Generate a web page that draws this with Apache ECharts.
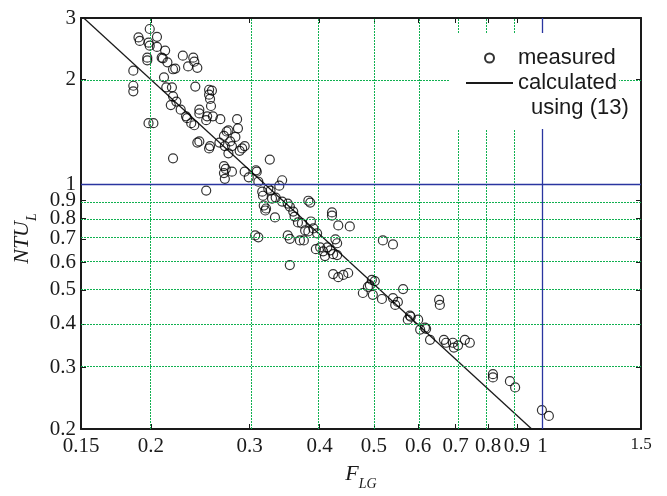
<!DOCTYPE html>
<html>
<head>
<meta charset="utf-8">
<script src="https://cdn.jsdelivr.net/npm/echarts@6/dist/echarts.min.js"></script>
<style>
  html, body { margin: 0; padding: 0; background: #fff; }
  #chart { width: 667px; height: 496px; }
</style>
</head>
<body>
<div id="chart"></div>
<script>
// tick labels (both axes are log scaled)
const xTicks = [0.15, 0.2, 0.3, 0.4, 0.5, 0.6, 0.7, 0.8, 0.9, 1, 1.5]
const yTicks = [0.2, 0.3, 0.4, 0.5, 0.6, 0.7, 0.8, 0.9, 1, 2, 3]
const xGrid = [0.2, 0.3, 0.4, 0.5, 0.6, 0.7, 0.8, 0.9]
const yGrid = [0.3, 0.4, 0.5, 0.6, 0.7, 0.8, 0.9, 2]
const refX = 1
const refY = 1

// measured points: F_LG and NTU_L
const measuredF = [0.199,0.190,0.191,0.205,0.198,0.199,0.205,0.212,0.197,0.197,
  0.209,0.210,0.214,0.186,0.219,0.221,0.228,0.238,0.239,0.233,
  0.242,0.211,0.186,0.186,0.213,0.218,0.240,0.254,0.257,0.254,
  0.255,0.256,0.219,0.222,0.217,0.226,0.244,0.244,0.252,0.258,
  0.231,0.232,0.266,0.285,0.286,0.251,0.236,0.239,0.198,0.202,
  0.275,0.273,0.270,0.283,0.277,0.242,0.244,0.265,0.271,0.279,
  0.294,0.255,0.254,0.275,0.288,0.291,0.219,0.326,0.270,0.272,
  0.270,0.271,0.279,0.294,0.299,0.308,0.309,0.311,0.316,0.317,
  0.251,0.324,0.339,0.343,0.327,0.334,0.329,0.343,0.351,0.318,
  0.321,0.320,0.333,0.354,0.359,0.361,0.366,0.372,0.382,0.385,
  0.386,0.377,0.382,0.390,0.396,0.307,0.311,0.351,0.354,0.369,
  0.375,0.394,0.401,0.413,0.406,0.418,0.423,0.430,0.409,0.430,
  0.421,0.421,0.432,0.453,0.427,0.519,0.541,0.354,0.423,0.432,
  0.441,0.450,0.496,0.502,0.492,0.488,0.478,0.498,0.517,0.564,
  0.541,0.546,0.552,0.580,0.582,0.575,0.600,0.605,0.617,0.620,
  0.630,0.654,0.656,0.667,0.673,0.692,0.695,0.707,0.727,0.742,
  0.816,0.816,0.875,0.894,0.998,1.027]
const measuredNTU = [2.79,2.64,2.58,2.65,2.55,2.50,2.48,2.42,2.31,2.27,
  2.31,2.30,2.24,2.12,2.14,2.15,2.34,2.31,2.25,2.18,
  2.16,2.03,1.92,1.85,1.90,1.90,1.91,1.87,1.86,1.81,
  1.76,1.68,1.79,1.73,1.69,1.64,1.64,1.60,1.57,1.57,
  1.57,1.55,1.54,1.54,1.45,1.53,1.50,1.48,1.50,1.50,
  1.43,1.42,1.38,1.37,1.33,1.32,1.33,1.32,1.29,1.29,
  1.29,1.29,1.27,1.23,1.25,1.27,1.19,1.18,1.13,1.11,
  1.08,1.04,1.09,1.09,1.05,1.10,1.09,1.02,0.955,0.93,
  0.962,0.974,0.994,1.03,0.962,0.919,0.913,0.895,0.883,0.872,
  0.855,0.844,0.806,0.866,0.838,0.811,0.78,0.775,0.90,0.889,
  0.785,0.74,0.735,0.75,0.726,0.716,0.707,0.716,0.70,0.693,
  0.693,0.654,0.662,0.662,0.645,0.649,0.633,0.629,0.625,0.68,
  0.833,0.816,0.765,0.76,0.698,0.693,0.675,0.589,0.555,0.544,
  0.552,0.559,0.534,0.530,0.516,0.510,0.490,0.484,0.471,0.503,
  0.474,0.453,0.462,0.422,0.419,0.411,0.411,0.385,0.390,0.387,
  0.360,0.468,0.453,0.360,0.353,0.353,0.342,0.347,0.360,0.353,
  0.287,0.281,0.274,0.263,0.2265,0.218]

// calculated using (13): straight line in log-log
const calcF = [0.15, 0.957]
const calcNTU = [3.05, 0.2]

const lg = Math.log10
const serif = 'Liberation Serif'
const sans = 'Liberation Sans'
const ink = '#1a1a1a'
const green = '#10b050'
const blue = '#2a35a0'

function tickLabel(ticks, v) {
  const t = ticks.find(t => Math.abs(lg(t) - v) < 1e-6)
  if (t === undefined) return ''
  return t === 1.5 ? '{s|1.5}' : String(t)
}

const dotted = { color: green, type: [2, 1], width: 1 }
const gridLines = xGrid.map(v => ({ xAxis: lg(v), lineStyle: dotted }))
  .concat(yGrid.map(v => ({ yAxis: lg(v), lineStyle: dotted })))
  .concat([
    { xAxis: lg(refX), lineStyle: { color: blue, type: 'solid', width: 1.3 } },
    { yAxis: lg(refY), lineStyle: { color: blue, type: 'solid', width: 1.3 } }
  ])

const frameLine = { show: true, onZero: false, lineStyle: { color: ink, width: 2 } }
const tickStyle = { color: ink, width: 1 }

const chart = echarts.init(document.getElementById('chart'))
chart.setOption({
  animation: false,
  backgroundColor: '#fff',
  grid: { left: 81, right: 26, top: 18, bottom: 64 },
  legend: {
    orient: 'vertical',
    left: 450, top: 33,
    padding: [14, 2, 35, 15],
    itemGap: 3,
    itemWidth: 47, itemHeight: 9,
    backgroundColor: '#fff',
    z: 10,
    textStyle: { fontFamily: sans, fontSize: 22, color: ink },
    data: [
      { name: 'measured', icon: 'circle' },
      { name: 'calculated', itemStyle: { color: 'rgba(0,0,0,0)', borderWidth: 0, opacity: 0 } }
    ]
  },
  graphic: [{
    type: 'text', z: 100, left: 531, top: 97,
    style: { text: 'using (13)', font: '22px "Liberation Sans"', fill: ink }
  }],
  xAxis: [{
    type: 'value',
    min: lg(xTicks[0]), max: lg(xTicks[xTicks.length - 1]),
    axisLine: frameLine,
    axisTick: { inside: true, length: 5, customValues: xGrid.concat([refX]).map(lg), lineStyle: tickStyle },
    axisLabel: {
      customValues: xTicks.map(lg),
      formatter: v => tickLabel(xTicks, v),
      margin: 7, fontFamily: serif, fontSize: 21, color: ink,
      rich: { s: { fontFamily: serif, fontSize: 17, color: ink } }
    },
    splitLine: { show: false },
    name: '{i|F}{s|LG}',
    nameLocation: 'middle', nameGap: 34,
    nameTextStyle: {
      rich: {
        i: { fontFamily: serif, fontStyle: 'italic', fontSize: 22, color: ink, verticalAlign: 'bottom', padding: [0, 0, 6, 0] },
        s: { fontFamily: serif, fontStyle: 'italic', fontSize: 14, color: ink, verticalAlign: 'bottom' }
      }
    }
  }, {
    type: 'value', position: 'top',
    min: lg(xTicks[0]), max: lg(xTicks[xTicks.length - 1]),
    axisLine: frameLine,
    axisTick: { inside: true, length: 5, customValues: xGrid.concat([refX]).map(lg), lineStyle: tickStyle },
    axisLabel: { show: false },
    splitLine: { show: false }
  }],
  yAxis: [{
    type: 'value',
    min: lg(yTicks[0]), max: lg(yTicks[yTicks.length - 1]),
    axisLine: frameLine,
    axisTick: { inside: true, length: 5, customValues: yGrid.concat([refY]).map(lg), lineStyle: tickStyle },
    axisLabel: {
      customValues: yTicks.map(lg),
      formatter: v => tickLabel(yTicks, v),
      margin: 5, fontFamily: serif, fontSize: 21, color: ink
    },
    splitLine: { show: false },
    name: '{i|NTU}{s|L}',
    nameLocation: 'middle', nameGap: 41, nameRotate: 90,
    nameTextStyle: {
      padding: [0, 30, 0, 0],
      rich: {
        i: { fontFamily: serif, fontStyle: 'italic', fontSize: 22, color: ink, verticalAlign: 'bottom', padding: [0, 0, 6, 0] },
        s: { fontFamily: serif, fontStyle: 'italic', fontSize: 14, color: ink, verticalAlign: 'bottom' }
      }
    }
  }, {
    type: 'value', position: 'right',
    min: lg(yTicks[0]), max: lg(yTicks[yTicks.length - 1]),
    axisLine: frameLine,
    axisTick: { inside: true, length: 5, customValues: yGrid.concat([refY]).map(lg), lineStyle: tickStyle },
    axisLabel: { show: false },
    splitLine: { show: false }
  }],
  series: [
    {
      name: 'measured',
      type: 'scatter',
      symbol: 'circle',
      symbolSize: 9,
      itemStyle: { color: 'rgba(255,255,255,0)', borderColor: '#000', borderWidth: 1.2 },
      data: measuredF.map((f, i) => [lg(f), lg(measuredNTU[i])]),
      markLine: {
        silent: true,
        symbol: ['none', 'none'],
        label: { show: false },
        data: gridLines
      },
      z: 3
    },
    {
      name: 'calculated',
      type: 'line',
      symbol: 'none',
      showSymbol: false,
      lineStyle: { color: ink, width: 1.3 },
      itemStyle: { color: ink },
      data: calcF.map((f, i) => [lg(f), lg(calcNTU[i])]),
      z: 3
    }
  ]
})
</script>
</body>
</html>
